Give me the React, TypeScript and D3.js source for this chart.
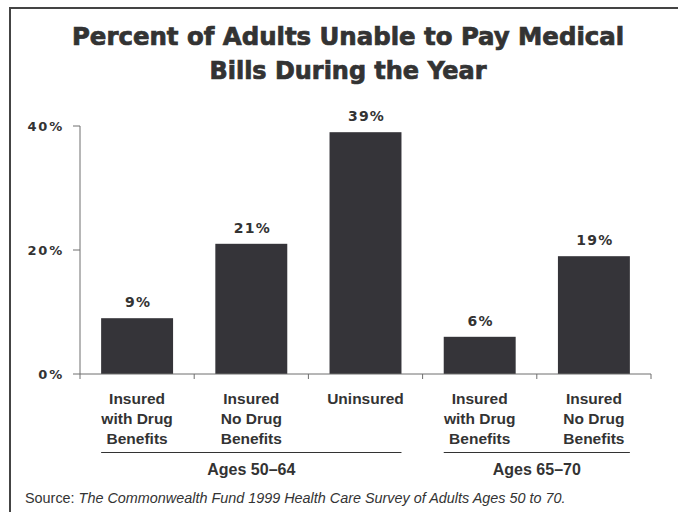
import React from "react";
import * as d3 from "d3";

const categories: string[][] = [
  ["Insured", "with Drug", "Benefits"],
  ["Insured", "No Drug", "Benefits"],
  ["Uninsured"],
  ["Insured", "with Drug", "Benefits"],
  ["Insured", "No Drug", "Benefits"],
];
const values: number[] = [9, 21, 39, 6, 19];
const yTicks: number[] = [0, 20, 40];
const groupLabels: string[] = ["Ages 50–64", "Ages 65–70"];
const groupStart: number[] = [0, 3];
const groupEnd: number[] = [2, 4];
const titleLines: string[] = ["Percent of Adults Unable to Pay Medical", "Bills During the Year"];

const W = 678;
const H = 512;
const BAR = "#353439";
const TEXT = "#333333";
const AXIS = "#6e6e6e";

export default function App() {
  const x = d3
    .scaleBand<number>()
    .domain(values.map((_, i) => i))
    .range([80, 651])
    .paddingInner(0.37)
    .paddingOuter(0.185);
  const y = d3.scaleLinear().domain([0, 40]).range([374, 126]);
  const step = x.step();
  const x0 = 80;
  const bounds = d3.range(values.length + 1).map((i) => x0 + i * step);

  return (
    <svg
      width={W}
      height={H}
      style={{ position: "absolute", left: 0, top: 0, background: "#fff" }}
    >
      {/* frame */}
      <line x1={9} x2={W} y1={8} y2={8} stroke="#444" strokeWidth={2} />
      <line x1={10} x2={10} y1={7} y2={H} stroke="#444" strokeWidth={2} />

      {/* title */}
      {titleLines.map((t, i) => (
        <text
          key={i}
          x={348}
          y={45 + i * 33.5}
          textAnchor="middle"
          fontFamily="'DejaVu Sans Condensed', 'DejaVu Sans', sans-serif"
          fontStretch="condensed"
          fontWeight="bold"
          fontSize={25}
          fill={TEXT}
          stroke={TEXT}
          strokeWidth={0.7}
          textLength={i === 0 ? 552 : 277}
          lengthAdjust="spacingAndGlyphs"
        >
          {t}
        </text>
      ))}

      {/* y axis */}
      <line x1={80} x2={80} y1={y(40)} y2={y(0)} stroke={AXIS} strokeWidth={1} />
      {yTicks.map((t) => (
        <g key={t}>
          <line x1={73} x2={80} y1={y(t)} y2={y(t)} stroke={AXIS} strokeWidth={1} />
          <text
            x={64}
            y={y(t)}
            dy="0.36em"
            textAnchor="end"
            fontFamily="'DejaVu Sans', sans-serif"
            fontWeight="bold"
            fontSize={13}
            letterSpacing={1.8}
            fill={TEXT}
          >
            {t}%
          </text>
        </g>
      ))}

      {/* bars */}
      {values.map((v, i) => (
        <g key={i}>
          <rect
            x={x(i)!}
            y={y(v)}
            width={x.bandwidth()}
            height={y(0) - y(v)}
            fill={BAR}
          />
          <text
            x={x(i)! + x.bandwidth() / 2 + 1}
            y={y(v) - 11}
            textAnchor="middle"
            fontFamily="'DejaVu Sans', sans-serif"
            fontWeight="bold"
            fontSize={14}
            letterSpacing={1.2}
            fill={TEXT}
          >
            {v}%
          </text>
        </g>
      ))}

      {/* x axis */}
      <line x1={80} x2={651} y1={y(0)} y2={y(0)} stroke={AXIS} strokeWidth={1} />
      {bounds.map((b, i) => (
        <line key={i} x1={b} x2={b} y1={y(0)} y2={y(0) + 5} stroke={AXIS} strokeWidth={1} />
      ))}

      {/* category labels */}
      {categories.map((lines, i) => (
        <text
          key={i}
          textAnchor="middle"
          fontFamily="'Liberation Sans', Arial, sans-serif"
          fontWeight="bold"
          fontSize={15.5}
          fill={TEXT}
        >
          {lines.map((l, j) => (
            <tspan key={j} x={x(i)! + x.bandwidth() / 2} y={404 + j * 20}>
              {l}
            </tspan>
          ))}
        </text>
      ))}

      {/* group underlines and labels */}
      {groupLabels.map((g, k) => {
        const a = x(groupStart[k])!;
        const b = x(groupEnd[k])! + x.bandwidth();
        return (
          <g key={k}>
            <line x1={a} x2={b} y1={452.5} y2={452.5} stroke={TEXT} strokeWidth={1.2} />
            <text
              x={(a + b) / 2}
              y={475}
              textAnchor="middle"
              fontFamily="'Liberation Sans', Arial, sans-serif"
              fontWeight="bold"
              fontSize={16}
              fill={TEXT}
            >
              {g}
            </text>
          </g>
        );
      })}

      {/* source */}
      <text
        x={25}
        y={503}
        fontFamily="'Liberation Sans', Arial, sans-serif"
        fontSize={14.4}
        fill={TEXT}
      >
        Source:{" "}
        <tspan fontStyle="italic">
          The Commonwealth Fund 1999 Health Care Survey of Adults Ages 50 to 70.
        </tspan>
      </text>
    </svg>
  );
}
